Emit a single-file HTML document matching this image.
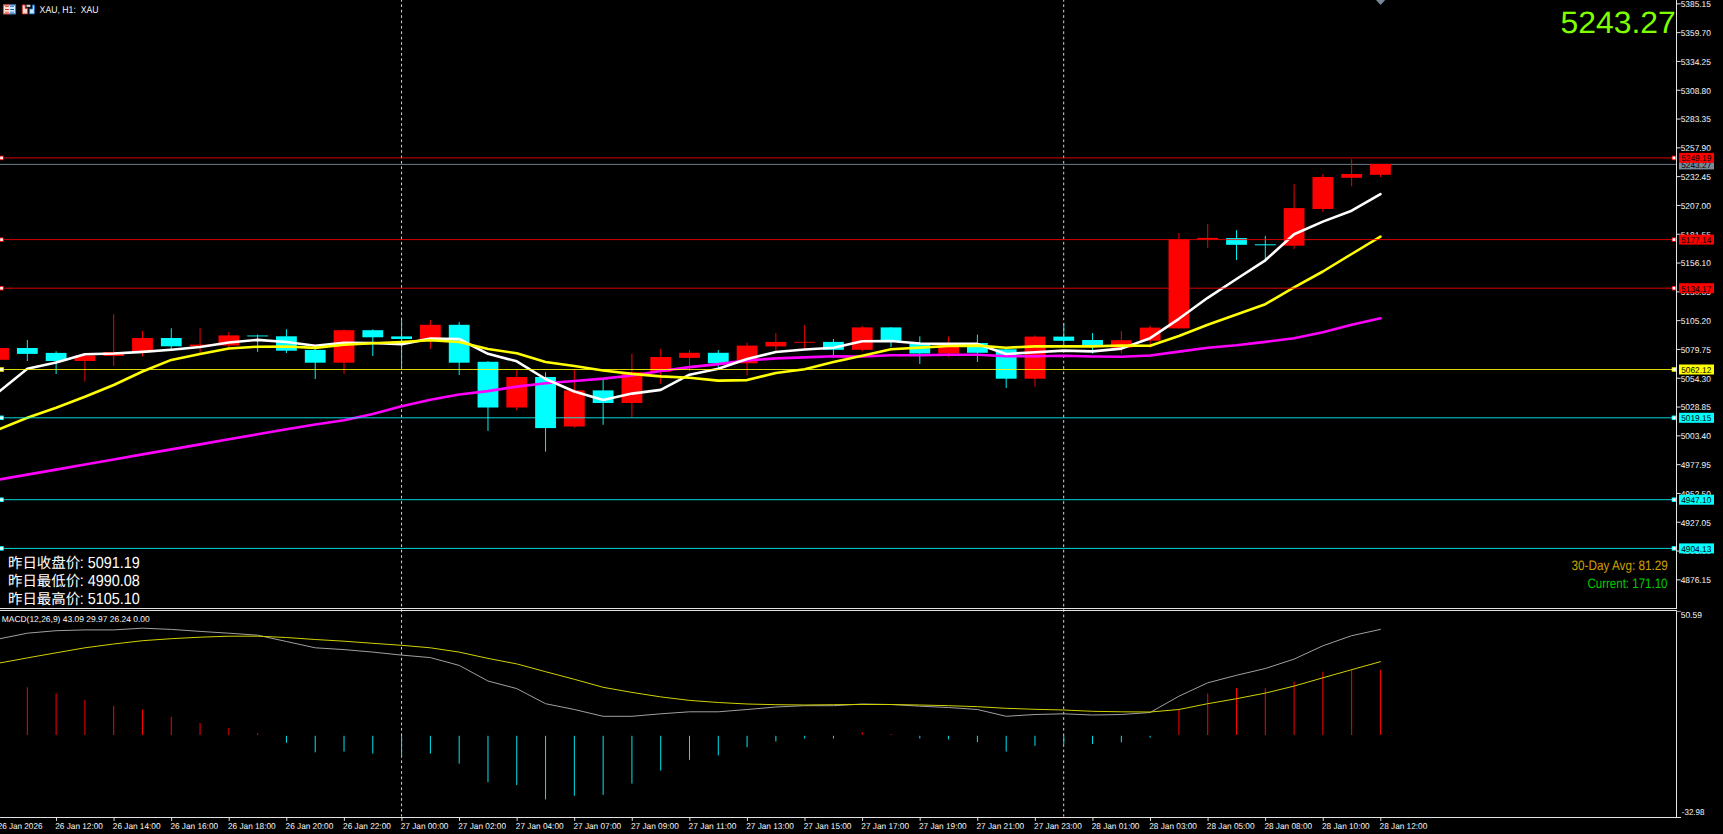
<!DOCTYPE html>
<html lang="zh"><head><meta charset="utf-8"><title>XAU, H1</title>
<style>
html,body{margin:0;padding:0;background:#000;overflow:hidden}
svg{display:block}
text{font-family:"Liberation Sans","Noto Sans CJK SC",sans-serif;white-space:pre;text-rendering:geometricPrecision}
.ax{fill:#fafafa}
.bx{fill:#000}
.cj{fill:#fff}
</style></head><body>
<svg width="1723" height="834" viewBox="0 0 1723 834">
<rect width="1723" height="834" fill="#000"/>
<g id="seps">
<line x1="401.55" y1="-1.05" x2="401.55" y2="816.5" stroke="#d4d4d4" stroke-width="1.0" stroke-dasharray="2.7 2.7"/>
<line x1="1063.7" y1="-1.05" x2="1063.7" y2="816.5" stroke="#d4d4d4" stroke-width="1.0" stroke-dasharray="2.7 2.7"/>
</g>
<line x1="0" y1="164.4" x2="1676.5" y2="164.4" stroke="#6c7a89" stroke-width="1.0" />
<g id="candles">
<line x1="-1.46" y1="346" x2="-1.46" y2="361" stroke="#ff0000" stroke-width="0.95" />
<rect x="-11.86" y="348" width="20.8" height="11.8" fill="#ff0000" />
<line x1="27.33" y1="340" x2="27.33" y2="361" stroke="#00ffff" stroke-width="0.95" />
<rect x="16.93" y="348" width="20.8" height="5.9" fill="#00ffff" />
<line x1="56.12" y1="351.3" x2="56.12" y2="374" stroke="#00ffff" stroke-width="0.95" />
<rect x="45.72" y="352.9" width="20.8" height="8.1" fill="#00ffff" />
<line x1="84.91" y1="355" x2="84.91" y2="381.6" stroke="#ff0000" stroke-width="0.95" />
<rect x="74.51" y="355.5" width="20.8" height="5.5" fill="#ff0000" />
<line x1="113.7" y1="314.3" x2="113.7" y2="366" stroke="#ff0000" stroke-width="0.95" />
<rect x="103.3" y="352" width="20.8" height="4" fill="#ff0000" />
<line x1="142.49" y1="331" x2="142.49" y2="356.4" stroke="#ff0000" stroke-width="0.95" />
<rect x="132.09" y="338" width="20.8" height="13.3" fill="#ff0000" />
<line x1="171.28" y1="328.3" x2="171.28" y2="349" stroke="#00ffff" stroke-width="0.95" />
<rect x="160.88" y="338" width="20.8" height="8.3" fill="#00ffff" />
<line x1="200.07" y1="328.3" x2="200.07" y2="353.5" stroke="#ff0000" stroke-width="0.95" />
<rect x="189.67" y="344.6" width="20.8" height="1.7" fill="#ff0000" />
<line x1="228.86" y1="332" x2="228.86" y2="348" stroke="#ff0000" stroke-width="0.95" />
<rect x="218.46" y="335.4" width="20.8" height="10.1" fill="#ff0000" />
<line x1="257.65" y1="334.5" x2="257.65" y2="351.9" stroke="#00ffff" stroke-width="0.95" />
<rect x="247.25" y="335.5" width="20.8" height="0.9" fill="#00ffff" />
<line x1="286.44" y1="329.2" x2="286.44" y2="353" stroke="#00ffff" stroke-width="0.95" />
<rect x="276.04" y="336.3" width="20.8" height="14.4" fill="#00ffff" />
<line x1="315.23" y1="346" x2="315.23" y2="379" stroke="#00ffff" stroke-width="0.95" />
<rect x="304.83" y="349.9" width="20.8" height="12.8" fill="#00ffff" />
<line x1="344.02" y1="329.4" x2="344.02" y2="374" stroke="#ff0000" stroke-width="0.95" />
<rect x="333.62" y="330.2" width="20.8" height="32.5" fill="#ff0000" />
<line x1="372.81" y1="329.4" x2="372.81" y2="356" stroke="#00ffff" stroke-width="0.95" />
<rect x="362.41" y="330.2" width="20.8" height="7.1" fill="#00ffff" />
<line x1="401.6" y1="319.3" x2="401.6" y2="368" stroke="#00ffff" stroke-width="0.95" />
<rect x="391.2" y="336.4" width="20.8" height="2.6" fill="#00ffff" />
<line x1="430.39" y1="320" x2="430.39" y2="349" stroke="#ff0000" stroke-width="0.95" />
<rect x="419.99" y="324.8" width="20.8" height="15.7" fill="#ff0000" />
<line x1="459.18" y1="322" x2="459.18" y2="375" stroke="#00ffff" stroke-width="0.95" />
<rect x="448.78" y="324.8" width="20.8" height="37.9" fill="#00ffff" />
<line x1="487.97" y1="361" x2="487.97" y2="430.9" stroke="#00ffff" stroke-width="0.95" />
<rect x="477.57" y="361.8" width="20.8" height="45.7" fill="#00ffff" />
<line x1="516.76" y1="369.8" x2="516.76" y2="410.2" stroke="#ff0000" stroke-width="0.95" />
<rect x="506.36" y="377" width="20.8" height="30.5" fill="#ff0000" />
<line x1="545.55" y1="372.3" x2="545.55" y2="451.6" stroke="#00ffff" stroke-width="0.95" />
<rect x="535.15" y="377" width="20.8" height="51.1" fill="#00ffff" />
<line x1="574.34" y1="369.7" x2="574.34" y2="427.6" stroke="#ff0000" stroke-width="0.95" />
<rect x="563.94" y="390.4" width="20.8" height="36.1" fill="#ff0000" />
<line x1="603.13" y1="379.8" x2="603.13" y2="424.8" stroke="#00ffff" stroke-width="0.95" />
<rect x="592.73" y="390.4" width="20.8" height="12.6" fill="#00ffff" />
<line x1="631.92" y1="353.7" x2="631.92" y2="417.3" stroke="#ff0000" stroke-width="0.95" />
<rect x="621.52" y="372.2" width="20.8" height="30.8" fill="#ff0000" />
<line x1="660.71" y1="349" x2="660.71" y2="384" stroke="#ff0000" stroke-width="0.95" />
<rect x="650.31" y="357" width="20.8" height="14.8" fill="#ff0000" />
<line x1="689.5" y1="350" x2="689.5" y2="371.3" stroke="#ff0000" stroke-width="0.95" />
<rect x="679.1" y="352.8" width="20.8" height="5.1" fill="#ff0000" />
<line x1="718.29" y1="350" x2="718.29" y2="368" stroke="#00ffff" stroke-width="0.95" />
<rect x="707.89" y="352.8" width="20.8" height="10.5" fill="#00ffff" />
<line x1="747.08" y1="342.7" x2="747.08" y2="375.2" stroke="#ff0000" stroke-width="0.95" />
<rect x="736.68" y="345.6" width="20.8" height="17.7" fill="#ff0000" />
<line x1="775.87" y1="333" x2="775.87" y2="351" stroke="#ff0000" stroke-width="0.95" />
<rect x="765.47" y="341.9" width="20.8" height="4.5" fill="#ff0000" />
<line x1="804.66" y1="325" x2="804.66" y2="348.6" stroke="#ff0000" stroke-width="0.95" />
<rect x="794.26" y="341.8" width="20.8" height="0.9" fill="#ff0000" />
<line x1="833.45" y1="339" x2="833.45" y2="355.7" stroke="#00ffff" stroke-width="0.95" />
<rect x="823.05" y="341.9" width="20.8" height="7.9" fill="#00ffff" />
<line x1="862.24" y1="326.2" x2="862.24" y2="351.4" stroke="#ff0000" stroke-width="0.95" />
<rect x="851.84" y="327.4" width="20.8" height="22.4" fill="#ff0000" />
<line x1="891.03" y1="327" x2="891.03" y2="347.2" stroke="#00ffff" stroke-width="0.95" />
<rect x="880.63" y="327.4" width="20.8" height="14.1" fill="#00ffff" />
<line x1="919.82" y1="336.3" x2="919.82" y2="364" stroke="#00ffff" stroke-width="0.95" />
<rect x="909.42" y="343.9" width="20.8" height="9.6" fill="#00ffff" />
<line x1="948.61" y1="336.3" x2="948.61" y2="357" stroke="#ff0000" stroke-width="0.95" />
<rect x="938.21" y="344.7" width="20.8" height="8.8" fill="#ff0000" />
<line x1="977.4" y1="334.6" x2="977.4" y2="361.9" stroke="#00ffff" stroke-width="0.95" />
<rect x="967" y="343" width="20.8" height="9.8" fill="#00ffff" />
<line x1="1006.19" y1="349" x2="1006.19" y2="388" stroke="#00ffff" stroke-width="0.95" />
<rect x="995.79" y="349.3" width="20.8" height="29.4" fill="#00ffff" />
<line x1="1034.98" y1="335.5" x2="1034.98" y2="386.8" stroke="#ff0000" stroke-width="0.95" />
<rect x="1024.58" y="336.6" width="20.8" height="42.1" fill="#ff0000" />
<line x1="1063.77" y1="323.2" x2="1063.77" y2="346" stroke="#00ffff" stroke-width="0.95" />
<rect x="1053.37" y="336.6" width="20.8" height="4.2" fill="#00ffff" />
<line x1="1092.56" y1="333" x2="1092.56" y2="353.6" stroke="#00ffff" stroke-width="0.95" />
<rect x="1082.16" y="340" width="20.8" height="7" fill="#00ffff" />
<line x1="1121.35" y1="331" x2="1121.35" y2="353.3" stroke="#ff0000" stroke-width="0.95" />
<rect x="1110.95" y="340.2" width="20.8" height="7.6" fill="#ff0000" />
<line x1="1150.14" y1="325.6" x2="1150.14" y2="347.8" stroke="#ff0000" stroke-width="0.95" />
<rect x="1139.74" y="327.6" width="20.8" height="13.1" fill="#ff0000" />
<line x1="1178.93" y1="233" x2="1178.93" y2="328.4" stroke="#ff0000" stroke-width="0.95" />
<rect x="1168.53" y="239.6" width="20.8" height="88.8" fill="#ff0000" />
<line x1="1207.72" y1="224.1" x2="1207.72" y2="248" stroke="#ff0000" stroke-width="0.95" />
<rect x="1197.32" y="237.9" width="20.8" height="1.4" fill="#ff0000" />
<line x1="1236.51" y1="230.3" x2="1236.51" y2="260" stroke="#00ffff" stroke-width="0.95" />
<rect x="1226.11" y="238.1" width="20.8" height="6.7" fill="#00ffff" />
<line x1="1265.3" y1="235.9" x2="1265.3" y2="261.7" stroke="#00ffff" stroke-width="0.95" />
<rect x="1254.9" y="244.3" width="20.8" height="1" fill="#00ffff" />
<line x1="1294.09" y1="184.2" x2="1294.09" y2="248.9" stroke="#ff0000" stroke-width="0.95" />
<rect x="1283.69" y="208.1" width="20.8" height="37.6" fill="#ff0000" />
<line x1="1322.88" y1="174" x2="1322.88" y2="212" stroke="#ff0000" stroke-width="0.95" />
<rect x="1312.48" y="177" width="20.8" height="32" fill="#ff0000" />
<line x1="1351.67" y1="159.3" x2="1351.67" y2="186.2" stroke="#ff0000" stroke-width="0.95" />
<rect x="1341.27" y="174" width="20.8" height="3.8" fill="#ff0000" />
<line x1="1380.46" y1="163.9" x2="1380.46" y2="177" stroke="#ff0000" stroke-width="0.95" />
<rect x="1370.06" y="163.9" width="20.8" height="10.9" fill="#ff0000" />
</g>
<g id="ma">
<polyline points="-1.46,479.7 27.33,474.6 56.12,469.6 84.91,464.5 113.7,459.5 142.49,454.4 171.28,449.4 200.07,444.4 228.86,439.3 257.65,434.3 286.44,429.2 315.23,424.5 344.02,420.3 372.81,414 401.6,406.3 430.39,399.7 459.18,394.5 487.97,391.1 516.76,386.6 545.55,383.2 574.34,381 603.13,378.6 631.92,375.5 660.71,371 689.5,367.1 718.29,364.1 747.08,360.4 775.87,358.4 804.66,357.4 833.45,356.2 862.24,356.5 891.03,355.3 919.82,355.3 948.61,354.8 977.4,354.8 1006.19,356.2 1034.98,356.2 1063.77,355.7 1092.56,356.5 1121.35,356.7 1150.14,355.5 1178.93,351.6 1207.72,347.8 1236.51,345.3 1265.3,341.9 1294.09,338.2 1322.88,332.3 1351.67,324.7 1380.46,318.3" fill="none" stroke="#ff00ff" stroke-width="2.6" stroke-linejoin="round" stroke-linecap="round"/>
<polyline points="-1.46,392 27.33,368.8 56.12,362.6 84.91,354.2 113.7,353.5 142.49,351.9 171.28,349.7 200.07,347 228.86,342.5 257.65,339.9 286.44,342 315.23,345.7 344.02,342.8 372.81,343 401.6,344.2 430.39,338.6 459.18,339 487.97,353.8 516.76,361.3 545.55,379 574.34,391.5 603.13,400 631.92,393.6 660.71,389.9 689.5,374.7 718.29,368.8 747.08,359 775.87,352 804.66,349.5 833.45,347.8 862.24,341.3 891.03,341 919.82,343.5 948.61,343.9 977.4,343.9 1006.19,354 1034.98,352.3 1063.77,350.6 1092.56,351.4 1121.35,348.6 1150.14,338.2 1178.93,318.8 1207.72,297.8 1236.51,279 1265.3,260.3 1294.09,234.2 1322.88,221.6 1351.67,210.7 1380.46,194.2" fill="none" stroke="#ffffff" stroke-width="2.6" stroke-linejoin="round" stroke-linecap="round"/>
<polyline points="-1.46,429.4 27.33,417.8 56.12,407.7 84.91,396.8 113.7,385 142.49,371.5 171.28,359.9 200.07,353.9 228.86,348.5 257.65,346.7 286.44,346.5 315.23,347.9 344.02,344.8 372.81,343.2 401.6,342 430.39,340.3 459.18,342 487.97,349 516.76,353.3 545.55,362 574.34,366 603.13,370.5 631.92,373.9 660.71,376.4 689.5,377.7 718.29,380.6 747.08,380.1 775.87,373 804.66,369.3 833.45,362 862.24,355.7 891.03,349.3 919.82,347.6 948.61,346 977.4,345.6 1006.19,347.7 1034.98,346.4 1063.77,346.4 1092.56,346.4 1121.35,345.5 1150.14,345.8 1178.93,336 1207.72,324.7 1236.51,314.6 1265.3,304.2 1294.09,287.3 1322.88,271.5 1351.67,254 1380.46,236.7" fill="none" stroke="#ffff00" stroke-width="2.6" stroke-linejoin="round" stroke-linecap="round"/>
</g>
<g id="levels">
<line x1="0" y1="157.9" x2="1676.5" y2="157.9" stroke="#ff0000" stroke-width="0.85" />
<line x1="0" y1="239.6" x2="1676.5" y2="239.6" stroke="#ff0000" stroke-width="0.85" />
<line x1="0" y1="288.2" x2="1676.5" y2="288.2" stroke="#ff0000" stroke-width="0.85" />
<line x1="0" y1="369.5" x2="1676.5" y2="369.5" stroke="#ffff00" stroke-width="0.85" />
<line x1="0" y1="417.8" x2="1676.5" y2="417.8" stroke="#00ffff" stroke-width="0.85" />
<line x1="0" y1="499.7" x2="1676.5" y2="499.7" stroke="#00ffff" stroke-width="0.85" />
<line x1="0" y1="548.4" x2="1676.5" y2="548.4" stroke="#00ffff" stroke-width="0.85" />
</g>
<g id="handles">
<rect x="-0.7" y="155.65" width="4.5" height="4.5" fill="#ff0000" />
<rect x="0.2" y="156.55" width="2.7" height="2.7" fill="#fff" />
<rect x="1671.7" y="155.65" width="4.5" height="4.5" fill="#ff0000" />
<rect x="1672.6" y="156.55" width="2.7" height="2.7" fill="#fff" />
<rect x="-0.7" y="237.35" width="4.5" height="4.5" fill="#ff0000" />
<rect x="0.2" y="238.25" width="2.7" height="2.7" fill="#fff" />
<rect x="1671.7" y="237.35" width="4.5" height="4.5" fill="#ff0000" />
<rect x="1672.6" y="238.25" width="2.7" height="2.7" fill="#fff" />
<rect x="-0.7" y="285.95" width="4.5" height="4.5" fill="#ff0000" />
<rect x="0.2" y="286.85" width="2.7" height="2.7" fill="#fff" />
<rect x="1671.7" y="285.95" width="4.5" height="4.5" fill="#ff0000" />
<rect x="1672.6" y="286.85" width="2.7" height="2.7" fill="#fff" />
<rect x="-0.7" y="367.25" width="4.5" height="4.5" fill="#ffff00" />
<rect x="0.2" y="368.15" width="2.7" height="2.7" fill="#fff" />
<rect x="1671.7" y="367.25" width="4.5" height="4.5" fill="#ffff00" />
<rect x="1672.6" y="368.15" width="2.7" height="2.7" fill="#fff" />
<rect x="-0.7" y="415.55" width="4.5" height="4.5" fill="#00ffff" />
<rect x="0.2" y="416.45" width="2.7" height="2.7" fill="#fff" />
<rect x="1671.7" y="415.55" width="4.5" height="4.5" fill="#00ffff" />
<rect x="1672.6" y="416.45" width="2.7" height="2.7" fill="#fff" />
<rect x="-0.7" y="497.45" width="4.5" height="4.5" fill="#00ffff" />
<rect x="0.2" y="498.35" width="2.7" height="2.7" fill="#fff" />
<rect x="1671.7" y="497.45" width="4.5" height="4.5" fill="#00ffff" />
<rect x="1672.6" y="498.35" width="2.7" height="2.7" fill="#fff" />
<rect x="-0.7" y="546.15" width="4.5" height="4.5" fill="#00ffff" />
<rect x="0.2" y="547.05" width="2.7" height="2.7" fill="#fff" />
<rect x="1671.7" y="546.15" width="4.5" height="4.5" fill="#00ffff" />
<rect x="1672.6" y="547.05" width="2.7" height="2.7" fill="#fff" />
</g>
<g id="axes">
<line x1="1676.5" y1="0" x2="1676.5" y2="609" stroke="#e4e4e4" stroke-width="1.0" />
<line x1="1676.5" y1="610" x2="1676.5" y2="818" stroke="#e4e4e4" stroke-width="1.0" />
<line x1="0" y1="608.5" x2="1677" y2="608.5" stroke="#e4e4e4" stroke-width="1.0" />
<line x1="0" y1="610.5" x2="1677" y2="610.5" stroke="#e4e4e4" stroke-width="1.0" />
<line x1="1676.5" y1="611.4" x2="1680.9" y2="611.4" stroke="#9a9a9a" stroke-width="1.0" />
<line x1="0" y1="817.5" x2="1681" y2="817.5" stroke="#e4e4e4" stroke-width="1.0" />
<line x1="1676.5" y1="3.84" x2="1680.6" y2="3.84" stroke="#e4e4e4" stroke-width="1.0" />
<text transform="translate(1680.7,7.14) scale(0.9283,0.9400)" font-size="9" class="ax">5385.15</text>
<line x1="1676.5" y1="32.64" x2="1680.6" y2="32.64" stroke="#e4e4e4" stroke-width="1.0" />
<text transform="translate(1680.7,35.94) scale(0.9283,0.9400)" font-size="9" class="ax">5359.70</text>
<line x1="1676.5" y1="61.44" x2="1680.6" y2="61.44" stroke="#e4e4e4" stroke-width="1.0" />
<text transform="translate(1680.7,64.74) scale(0.9283,0.9400)" font-size="9" class="ax">5334.25</text>
<line x1="1676.5" y1="90.24" x2="1680.6" y2="90.24" stroke="#e4e4e4" stroke-width="1.0" />
<text transform="translate(1680.7,93.54) scale(0.9283,0.9400)" font-size="9" class="ax">5308.80</text>
<line x1="1676.5" y1="119.04" x2="1680.6" y2="119.04" stroke="#e4e4e4" stroke-width="1.0" />
<text transform="translate(1680.7,122.34) scale(0.9283,0.9400)" font-size="9" class="ax">5283.35</text>
<line x1="1676.5" y1="147.84" x2="1680.6" y2="147.84" stroke="#e4e4e4" stroke-width="1.0" />
<text transform="translate(1680.7,151.14) scale(0.9283,0.9400)" font-size="9" class="ax">5257.90</text>
<line x1="1676.5" y1="176.64" x2="1680.6" y2="176.64" stroke="#e4e4e4" stroke-width="1.0" />
<text transform="translate(1680.7,179.94) scale(0.9283,0.9400)" font-size="9" class="ax">5232.45</text>
<line x1="1676.5" y1="205.45" x2="1680.6" y2="205.45" stroke="#e4e4e4" stroke-width="1.0" />
<text transform="translate(1680.7,208.75) scale(0.9283,0.9400)" font-size="9" class="ax">5207.00</text>
<line x1="1676.5" y1="234.25" x2="1680.6" y2="234.25" stroke="#e4e4e4" stroke-width="1.0" />
<text transform="translate(1680.7,237.55) scale(0.9283,0.9400)" font-size="9" class="ax">5181.55</text>
<line x1="1676.5" y1="263.05" x2="1680.6" y2="263.05" stroke="#e4e4e4" stroke-width="1.0" />
<text transform="translate(1680.7,266.35) scale(0.9283,0.9400)" font-size="9" class="ax">5156.10</text>
<line x1="1676.5" y1="291.85" x2="1680.6" y2="291.85" stroke="#e4e4e4" stroke-width="1.0" />
<text transform="translate(1680.7,295.15) scale(0.9283,0.9400)" font-size="9" class="ax">5130.65</text>
<line x1="1676.5" y1="320.65" x2="1680.6" y2="320.65" stroke="#e4e4e4" stroke-width="1.0" />
<text transform="translate(1680.7,323.95) scale(0.9283,0.9400)" font-size="9" class="ax">5105.20</text>
<line x1="1676.5" y1="349.45" x2="1680.6" y2="349.45" stroke="#e4e4e4" stroke-width="1.0" />
<text transform="translate(1680.7,352.75) scale(0.9283,0.9400)" font-size="9" class="ax">5079.75</text>
<line x1="1676.5" y1="378.26" x2="1680.6" y2="378.26" stroke="#e4e4e4" stroke-width="1.0" />
<text transform="translate(1680.7,381.56) scale(0.9283,0.9400)" font-size="9" class="ax">5054.30</text>
<line x1="1676.5" y1="407.06" x2="1680.6" y2="407.06" stroke="#e4e4e4" stroke-width="1.0" />
<text transform="translate(1680.7,410.36) scale(0.9283,0.9400)" font-size="9" class="ax">5028.85</text>
<line x1="1676.5" y1="435.86" x2="1680.6" y2="435.86" stroke="#e4e4e4" stroke-width="1.0" />
<text transform="translate(1680.7,439.16) scale(0.9283,0.9400)" font-size="9" class="ax">5003.40</text>
<line x1="1676.5" y1="464.66" x2="1680.6" y2="464.66" stroke="#e4e4e4" stroke-width="1.0" />
<text transform="translate(1680.7,467.96) scale(0.9283,0.9400)" font-size="9" class="ax">4977.95</text>
<line x1="1676.5" y1="493.46" x2="1680.6" y2="493.46" stroke="#e4e4e4" stroke-width="1.0" />
<text transform="translate(1680.7,496.76) scale(0.9283,0.9400)" font-size="9" class="ax">4952.50</text>
<line x1="1676.5" y1="522.26" x2="1680.6" y2="522.26" stroke="#e4e4e4" stroke-width="1.0" />
<text transform="translate(1680.7,525.56) scale(0.9283,0.9400)" font-size="9" class="ax">4927.05</text>
<line x1="1676.5" y1="551.06" x2="1680.6" y2="551.06" stroke="#e4e4e4" stroke-width="1.0" />
<text transform="translate(1680.7,554.36) scale(0.9283,0.9400)" font-size="9" class="ax">4901.60</text>
<line x1="1676.5" y1="579.87" x2="1680.6" y2="579.87" stroke="#e4e4e4" stroke-width="1.0" />
<text transform="translate(1680.7,583.17) scale(0.9283,0.9400)" font-size="9" class="ax">4876.15</text>
<text transform="translate(1680.7,618.2) scale(0.9413,0.9400)" font-size="9" class="ax">50.59</text>
<text transform="translate(1681.8,815.4) scale(0.8856,0.9400)" font-size="9" class="ax">-32.98</text>
<line x1="-1.11" y1="817.5" x2="-1.11" y2="820.9" stroke="#e4e4e4" stroke-width="1.0" />
<text transform="translate(-2.36,828.5) scale(0.9042,0.9400)" font-size="9" class="ax">26 Jan 2026</text>
<line x1="56.47" y1="817.5" x2="56.47" y2="820.9" stroke="#e4e4e4" stroke-width="1.0" />
<text transform="translate(55.22,828.5) scale(0.9165,0.9400)" font-size="9" class="ax">26 Jan 12:00</text>
<line x1="114.05" y1="817.5" x2="114.05" y2="820.9" stroke="#e4e4e4" stroke-width="1.0" />
<text transform="translate(112.8,828.5) scale(0.9165,0.9400)" font-size="9" class="ax">26 Jan 14:00</text>
<line x1="171.63" y1="817.5" x2="171.63" y2="820.9" stroke="#e4e4e4" stroke-width="1.0" />
<text transform="translate(170.38,828.5) scale(0.9165,0.9400)" font-size="9" class="ax">26 Jan 16:00</text>
<line x1="229.21" y1="817.5" x2="229.21" y2="820.9" stroke="#e4e4e4" stroke-width="1.0" />
<text transform="translate(227.96,828.5) scale(0.9165,0.9400)" font-size="9" class="ax">26 Jan 18:00</text>
<line x1="286.79" y1="817.5" x2="286.79" y2="820.9" stroke="#e4e4e4" stroke-width="1.0" />
<text transform="translate(285.54,828.5) scale(0.9165,0.9400)" font-size="9" class="ax">26 Jan 20:00</text>
<line x1="344.37" y1="817.5" x2="344.37" y2="820.9" stroke="#e4e4e4" stroke-width="1.0" />
<text transform="translate(343.12,828.5) scale(0.9165,0.9400)" font-size="9" class="ax">26 Jan 22:00</text>
<line x1="401.95" y1="817.5" x2="401.95" y2="820.9" stroke="#e4e4e4" stroke-width="1.0" />
<text transform="translate(400.7,828.5) scale(0.9165,0.9400)" font-size="9" class="ax">27 Jan 00:00</text>
<line x1="459.53" y1="817.5" x2="459.53" y2="820.9" stroke="#e4e4e4" stroke-width="1.0" />
<text transform="translate(458.28,828.5) scale(0.9165,0.9400)" font-size="9" class="ax">27 Jan 02:00</text>
<line x1="517.11" y1="817.5" x2="517.11" y2="820.9" stroke="#e4e4e4" stroke-width="1.0" />
<text transform="translate(515.86,828.5) scale(0.9165,0.9400)" font-size="9" class="ax">27 Jan 04:00</text>
<line x1="574.69" y1="817.5" x2="574.69" y2="820.9" stroke="#e4e4e4" stroke-width="1.0" />
<text transform="translate(573.44,828.5) scale(0.9165,0.9400)" font-size="9" class="ax">27 Jan 07:00</text>
<line x1="632.27" y1="817.5" x2="632.27" y2="820.9" stroke="#e4e4e4" stroke-width="1.0" />
<text transform="translate(631.02,828.5) scale(0.9165,0.9400)" font-size="9" class="ax">27 Jan 09:00</text>
<line x1="689.85" y1="817.5" x2="689.85" y2="820.9" stroke="#e4e4e4" stroke-width="1.0" />
<text transform="translate(688.6,828.5) scale(0.9284,0.9400)" font-size="9" class="ax">27 Jan 11:00</text>
<line x1="747.43" y1="817.5" x2="747.43" y2="820.9" stroke="#e4e4e4" stroke-width="1.0" />
<text transform="translate(746.18,828.5) scale(0.9165,0.9400)" font-size="9" class="ax">27 Jan 13:00</text>
<line x1="805.01" y1="817.5" x2="805.01" y2="820.9" stroke="#e4e4e4" stroke-width="1.0" />
<text transform="translate(803.76,828.5) scale(0.9165,0.9400)" font-size="9" class="ax">27 Jan 15:00</text>
<line x1="862.59" y1="817.5" x2="862.59" y2="820.9" stroke="#e4e4e4" stroke-width="1.0" />
<text transform="translate(861.34,828.5) scale(0.9165,0.9400)" font-size="9" class="ax">27 Jan 17:00</text>
<line x1="920.17" y1="817.5" x2="920.17" y2="820.9" stroke="#e4e4e4" stroke-width="1.0" />
<text transform="translate(918.92,828.5) scale(0.9165,0.9400)" font-size="9" class="ax">27 Jan 19:00</text>
<line x1="977.75" y1="817.5" x2="977.75" y2="820.9" stroke="#e4e4e4" stroke-width="1.0" />
<text transform="translate(976.5,828.5) scale(0.9165,0.9400)" font-size="9" class="ax">27 Jan 21:00</text>
<line x1="1035.33" y1="817.5" x2="1035.33" y2="820.9" stroke="#e4e4e4" stroke-width="1.0" />
<text transform="translate(1034.08,828.5) scale(0.9165,0.9400)" font-size="9" class="ax">27 Jan 23:00</text>
<line x1="1092.91" y1="817.5" x2="1092.91" y2="820.9" stroke="#e4e4e4" stroke-width="1.0" />
<text transform="translate(1091.66,828.5) scale(0.9165,0.9400)" font-size="9" class="ax">28 Jan 01:00</text>
<line x1="1150.49" y1="817.5" x2="1150.49" y2="820.9" stroke="#e4e4e4" stroke-width="1.0" />
<text transform="translate(1149.24,828.5) scale(0.9165,0.9400)" font-size="9" class="ax">28 Jan 03:00</text>
<line x1="1208.07" y1="817.5" x2="1208.07" y2="820.9" stroke="#e4e4e4" stroke-width="1.0" />
<text transform="translate(1206.82,828.5) scale(0.9165,0.9400)" font-size="9" class="ax">28 Jan 05:00</text>
<line x1="1265.65" y1="817.5" x2="1265.65" y2="820.9" stroke="#e4e4e4" stroke-width="1.0" />
<text transform="translate(1264.4,828.5) scale(0.9165,0.9400)" font-size="9" class="ax">28 Jan 08:00</text>
<line x1="1323.23" y1="817.5" x2="1323.23" y2="820.9" stroke="#e4e4e4" stroke-width="1.0" />
<text transform="translate(1321.98,828.5) scale(0.9165,0.9400)" font-size="9" class="ax">28 Jan 10:00</text>
<line x1="1380.81" y1="817.5" x2="1380.81" y2="820.9" stroke="#e4e4e4" stroke-width="1.0" />
<text transform="translate(1379.56,828.5) scale(0.9165,0.9400)" font-size="9" class="ax">28 Jan 12:00</text>
</g>
<g id="boxes">
<rect x="1679" y="159.4" width="35" height="10" fill="#778899" />
<text transform="translate(1681.2,167.8) scale(0.9252,0.9400)" font-size="9" class="bx">5243.27</text>
<rect x="1679" y="543.4" width="35" height="10" fill="#00ffff" />
<text transform="translate(1681.2,551.8) scale(0.9252,0.9400)" font-size="9" class="bx">4904.13</text>
<rect x="1679" y="494.7" width="35" height="10" fill="#00ffff" />
<text transform="translate(1681.2,503.1) scale(0.9252,0.9400)" font-size="9" class="bx">4947.10</text>
<rect x="1679" y="412.8" width="35" height="10" fill="#00ffff" />
<text transform="translate(1681.2,421.2) scale(0.9252,0.9400)" font-size="9" class="bx">5019.15</text>
<rect x="1679" y="364.5" width="35" height="10" fill="#ffff00" />
<text transform="translate(1681.2,372.9) scale(0.9252,0.9400)" font-size="9" class="bx">5062.12</text>
<rect x="1679" y="283.2" width="35" height="10" fill="#ff0000" />
<text transform="translate(1681.2,291.6) scale(0.9252,0.9400)" font-size="9" class="bx">5134.17</text>
<rect x="1679" y="234.6" width="35" height="10" fill="#ff0000" />
<text transform="translate(1681.2,243) scale(0.9252,0.9400)" font-size="9" class="bx">5177.14</text>
<rect x="1679" y="152.9" width="35" height="10" fill="#ff0000" />
<text transform="translate(1681.2,161.3) scale(0.9252,0.9400)" font-size="9" class="bx">5249.19</text>
</g>
<g id="macd">
<line x1="-1.46" y1="681" x2="-1.46" y2="735" stroke="#ff0000" stroke-width="1.0" />
<line x1="27.33" y1="687.3" x2="27.33" y2="735" stroke="#ff0000" stroke-width="1.0" />
<line x1="56.12" y1="693.6" x2="56.12" y2="735" stroke="#ff0000" stroke-width="1.0" />
<line x1="84.91" y1="700" x2="84.91" y2="735" stroke="#ff0000" stroke-width="1.0" />
<line x1="113.7" y1="705.7" x2="113.7" y2="735" stroke="#ff0000" stroke-width="1.0" />
<line x1="142.49" y1="709.5" x2="142.49" y2="735" stroke="#ff0000" stroke-width="1.0" />
<line x1="171.28" y1="716.8" x2="171.28" y2="735" stroke="#ff0000" stroke-width="1.0" />
<line x1="200.07" y1="723.1" x2="200.07" y2="735" stroke="#ff0000" stroke-width="1.0" />
<line x1="228.86" y1="727.9" x2="228.86" y2="735" stroke="#ff0000" stroke-width="1.0" />
<line x1="257.65" y1="733.2" x2="257.65" y2="735" stroke="#ff0000" stroke-width="1.0" />
<line x1="286.44" y1="735.8" x2="286.44" y2="742.8" stroke="#00e5ee" stroke-width="1.0" />
<line x1="315.23" y1="735.8" x2="315.23" y2="752.3" stroke="#00e5ee" stroke-width="1.0" />
<line x1="344.02" y1="735.8" x2="344.02" y2="751.6" stroke="#00e5ee" stroke-width="1.0" />
<line x1="372.81" y1="735.8" x2="372.81" y2="753.6" stroke="#00e5ee" stroke-width="1.0" />
<line x1="401.6" y1="735.8" x2="401.6" y2="756.6" stroke="#00e5ee" stroke-width="1.0" />
<line x1="430.39" y1="735.8" x2="430.39" y2="753.6" stroke="#00e5ee" stroke-width="1.0" />
<line x1="459.18" y1="735.8" x2="459.18" y2="763.7" stroke="#00e5ee" stroke-width="1.0" />
<line x1="487.97" y1="735.8" x2="487.97" y2="782.3" stroke="#00e5ee" stroke-width="1.0" />
<line x1="516.76" y1="735.8" x2="516.76" y2="785.1" stroke="#00e5ee" stroke-width="1.0" />
<line x1="545.55" y1="735.8" x2="545.55" y2="799.4" stroke="#00e5ee" stroke-width="1.0" />
<line x1="574.34" y1="735.8" x2="574.34" y2="795.7" stroke="#00e5ee" stroke-width="1.0" />
<line x1="603.13" y1="735.8" x2="603.13" y2="794.9" stroke="#00e5ee" stroke-width="1.0" />
<line x1="631.92" y1="735.8" x2="631.92" y2="783.6" stroke="#00e5ee" stroke-width="1.0" />
<line x1="660.71" y1="735.8" x2="660.71" y2="770.5" stroke="#00e5ee" stroke-width="1.0" />
<line x1="689.5" y1="735.8" x2="689.5" y2="759.9" stroke="#00e5ee" stroke-width="1.0" />
<line x1="718.29" y1="735.8" x2="718.29" y2="755.4" stroke="#00e5ee" stroke-width="1.0" />
<line x1="747.08" y1="735.8" x2="747.08" y2="747.3" stroke="#00e5ee" stroke-width="1.0" />
<line x1="775.87" y1="735.8" x2="775.87" y2="741.5" stroke="#00e5ee" stroke-width="1.0" />
<line x1="804.66" y1="735.8" x2="804.66" y2="738.5" stroke="#00e5ee" stroke-width="1.0" />
<line x1="833.45" y1="735.8" x2="833.45" y2="738.5" stroke="#00e5ee" stroke-width="1.0" />
<line x1="862.24" y1="732.2" x2="862.24" y2="735" stroke="#ff0000" stroke-width="1.0" />
<line x1="891.03" y1="734" x2="891.03" y2="735" stroke="#ff0000" stroke-width="1.0" />
<line x1="919.82" y1="735.8" x2="919.82" y2="738.5" stroke="#00e5ee" stroke-width="1.0" />
<line x1="948.61" y1="735.8" x2="948.61" y2="739.5" stroke="#00e5ee" stroke-width="1.0" />
<line x1="977.4" y1="735.8" x2="977.4" y2="742" stroke="#00e5ee" stroke-width="1.0" />
<line x1="1006.19" y1="735.8" x2="1006.19" y2="751.6" stroke="#00e5ee" stroke-width="1.0" />
<line x1="1034.98" y1="735.8" x2="1034.98" y2="745.8" stroke="#00e5ee" stroke-width="1.0" />
<line x1="1063.77" y1="735.8" x2="1063.77" y2="744" stroke="#00e5ee" stroke-width="1.0" />
<line x1="1092.56" y1="735.8" x2="1092.56" y2="744" stroke="#00e5ee" stroke-width="1.0" />
<line x1="1121.35" y1="735.8" x2="1121.35" y2="742.3" stroke="#00e5ee" stroke-width="1.0" />
<line x1="1150.14" y1="735.8" x2="1150.14" y2="737.7" stroke="#00e5ee" stroke-width="1.0" />
<line x1="1178.93" y1="710" x2="1178.93" y2="735" stroke="#ff0000" stroke-width="1.0" />
<line x1="1207.72" y1="693.6" x2="1207.72" y2="735" stroke="#ff0000" stroke-width="1.0" />
<line x1="1236.51" y1="688.1" x2="1236.51" y2="735" stroke="#ff0000" stroke-width="1.0" />
<line x1="1265.3" y1="688.1" x2="1265.3" y2="735" stroke="#ff0000" stroke-width="1.0" />
<line x1="1294.09" y1="681.8" x2="1294.09" y2="735" stroke="#ff0000" stroke-width="1.0" />
<line x1="1322.88" y1="671.7" x2="1322.88" y2="735" stroke="#ff0000" stroke-width="1.0" />
<line x1="1351.67" y1="669.2" x2="1351.67" y2="735" stroke="#ff0000" stroke-width="1.0" />
<line x1="1380.46" y1="669.7" x2="1380.46" y2="735" stroke="#ff0000" stroke-width="1.0" />
<polyline points="-1.46,639 27.33,633.2 56.12,630.7 84.91,629.9 113.7,629.9 142.49,628.2 171.28,629.4 200.07,631.4 228.86,633.2 257.65,635.2 286.44,641.5 315.23,647.8 344.02,649.6 372.81,652.1 401.6,655.1 430.39,657.6 459.18,665.4 487.97,681 516.76,688.6 545.55,703.7 574.34,709.5 603.13,716.3 631.92,716.3 660.71,713.8 689.5,711.8 718.29,711.8 747.08,709.5 775.87,707 804.66,705.7 833.45,705.7 862.24,704 891.03,704.5 919.82,706.2 948.61,707.5 977.4,709.5 1006.19,716.3 1034.98,714.5 1063.77,713.8 1092.56,715 1121.35,714.5 1150.14,712.5 1178.93,696.2 1207.72,682.8 1236.51,675.3 1265.3,668.5 1294.09,659.1 1322.88,645.8 1351.67,635.7 1380.46,629.4" fill="none" stroke="#a0a0a0" stroke-width="1.0" stroke-linejoin="round" stroke-linecap="round"/>
<polyline points="-1.46,663.2 27.33,657.9 56.12,652.8 84.91,647.8 113.7,644 142.49,640.7 171.28,638.7 200.07,637.2 228.86,636.2 257.65,636.2 286.44,637.5 315.23,639.5 344.02,641.2 372.81,643.3 401.6,645.3 430.39,647.8 459.18,652.1 487.97,658.4 516.76,663.9 545.55,671.7 574.34,679.3 603.13,687.3 631.92,692.4 660.71,696.9 689.5,700.4 718.29,702.5 747.08,704 775.87,704.7 804.66,705 833.45,704.7 862.24,704.5 891.03,704.5 919.82,705 948.61,705.7 977.4,706.7 1006.19,708.3 1034.98,709.3 1063.77,710 1092.56,711.3 1121.35,711.8 1150.14,712 1178.93,709.5 1207.72,703.7 1236.51,698.7 1265.3,693.1 1294.09,686.1 1322.88,677.8 1351.67,669.7 1380.46,661.7" fill="none" stroke="#d2d200" stroke-width="1.0" stroke-linejoin="round" stroke-linecap="round"/>
<text transform="translate(1.7,622.4) scale(0.9390,0.9400)" font-size="9" class="ax">MACD(12,26,9) 43.09 29.97 26.24 0.00</text>
</g>
<g id="icons">
<rect x="3" y="4.6" width="7" height="9.6" fill="#ffe0d9"/><rect x="9.5" y="4.6" width="6.5" height="9.6" fill="#cbe8ff"/>
<path d="M9.5 5H3.4V13.8H9.5" fill="none" stroke="#d8352a" stroke-width="0.9"/><path d="M9.5 5H15.6V13.8H9.5" fill="none" stroke="#1767b5" stroke-width="0.9"/>
<rect x="5" y="6" width="3.8" height="1" fill="#e4574d"/><rect x="10.2" y="6" width="3.8" height="1" fill="#3a84cb"/>
<rect x="5" y="9" width="3.8" height="1" fill="#dd2a22"/><rect x="10.2" y="9" width="3.8" height="1" fill="#0a5cad"/>
<rect x="5" y="11.7" width="3.8" height="1.1" fill="#e66a61"/><rect x="10.2" y="11.7" width="3.8" height="1.1" fill="#4a8fd2"/>
<path d="M22.3 4.9H25.2V8.4H27.6V13.9H22.3Z" fill="#ffd9d2" stroke="#d8352a" stroke-width="0.9"/>
<path d="M34.4 4.9H32.4V8.9H29.4V13.9H34.4Z" fill="#c4e6ff" stroke="#1767b5" stroke-width="0.9"/>
<rect x="26.3" y="4.8" width="4.2" height="2.2" fill="#e8e8e8" stroke="#444" stroke-width="0.6"/>
</g>
<text transform="translate(39.6,12.9) scale(0.8702,1.0000)" font-size="10" style="fill:#f4f4f4">XAU, H1:  XAU</text>
<path d="M1376 0H1385.2L1380.6 4.9Z" fill="#778899"/>
<text transform="translate(1560.4,33.15) scale(1.0332,1.0000)" font-size="30.9" style="fill:#7fff00">5243.27</text>
<text transform="translate(8,567.8) scale(0.9843,1)" font-size="14.67" class="cj">昨日收盘价<tspan dx="-0.3" font-size="16.14" textLength="60.96" lengthAdjust="spacingAndGlyphs">: 5091.19</tspan></text>
<text transform="translate(8,586) scale(0.9843,1)" font-size="14.67" class="cj">昨日最低价<tspan dx="-0.3" font-size="16.14" textLength="60.96" lengthAdjust="spacingAndGlyphs">: 4990.08</tspan></text>
<text transform="translate(8,604.2) scale(0.9843,1)" font-size="14.67" class="cj">昨日最高价<tspan dx="-0.3" font-size="16.14" textLength="60.96" lengthAdjust="spacingAndGlyphs">: 5105.10</tspan></text>
<text transform="translate(1571.6,569.9) scale(0.8553,1.0000)" font-size="13.7" style="fill:#d0a000">30-Day Avg: 81.29</text>
<text transform="translate(1587.4,587.8) scale(0.8425,1.0000)" font-size="13.7" style="fill:#00cc00">Current: 171.10</text>
</svg></body></html>
